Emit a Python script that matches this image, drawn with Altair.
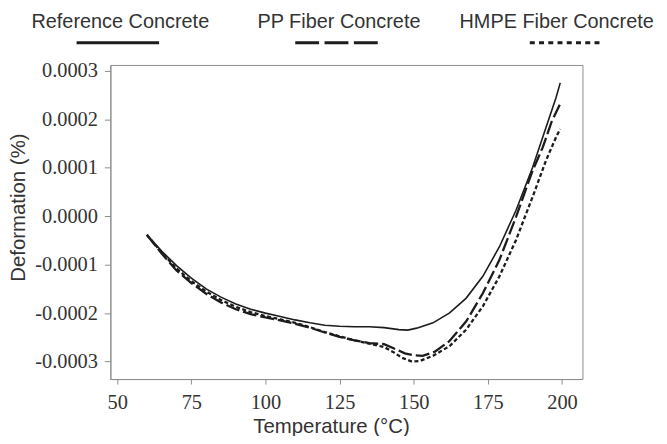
import altair as alt
import pandas as pd

# ---- data ----
ref_temp = [60, 65, 70, 75, 80, 85, 90, 95, 100, 105, 110, 115, 120, 125, 130, 135, 140, 145, 148, 151, 156.5, 162.1, 167.7, 173.3, 178.9, 184.5, 190.1, 194.6, 198, 199.4]
ref_def = [-0.0000385, -0.000072, -0.000102, -0.000128, -0.000150, -0.000167, -0.000181, -0.000192, -0.000200, -0.000207, -0.000214, -0.000220, -0.000225, -0.000227, -0.000228, -0.000228, -0.000230, -0.000234, -0.000235, -0.000231, -0.000220, -0.0001995, -0.000169, -0.000124, -0.000063, 0.0000123, 0.000101, 0.000183, 0.000245, 0.000275]

pp_temp = [60, 65, 70, 75, 80, 85, 90, 95, 100, 105, 110, 115, 120, 125, 130, 135, 140, 143, 147, 150, 153, 157, 162, 167.7, 173.3, 178.9, 184.5, 190.1, 193.5, 196.5, 199.4]
pp_def = [-0.0000385, -0.000077, -0.000112, -0.000138, -0.000160, -0.000178, -0.000192, -0.000202, -0.000209, -0.000215, -0.000222, -0.000230, -0.000240, -0.000249, -0.000256, -0.000262, -0.000264, -0.000272, -0.000283, -0.000287, -0.000288, -0.000280, -0.000258, -0.000217, -0.000159, -0.000090, -0.0000014, 0.0000943, 0.000142, 0.000195, 0.000232]

hmpe_temp = [60, 65, 70, 75, 80, 85, 90, 95, 100, 105, 110, 115, 120, 125, 130, 135, 140, 143, 146, 149.4, 152, 156.5, 162.1, 167.7, 173.3, 178.9, 184.5, 190.1, 194.6, 198, 199.4]
hmpe_def = [-0.0000385, -0.000075, -0.000108, -0.000134, -0.000155, -0.000173, -0.000187, -0.000198, -0.000206, -0.000213, -0.000220, -0.000229, -0.000239, -0.000248, -0.000256, -0.000263, -0.000270, -0.000280, -0.000292, -0.000300, -0.000299, -0.000288, -0.000268, -0.000234, -0.000186, -0.000124, -0.000049, 0.000040, 0.000115, 0.000163, 0.000180]

series_names = ["Reference Concrete", "PP Fiber Concrete", "HMPE Fiber Concrete"]
x_ticks = [50, 75, 100, 125, 150, 175, 200]
y_ticks = [-0.0003, -0.0002, -0.0001, 0.0, 0.0001, 0.0002, 0.0003]

x_title = "Temperature (°C)"
y_title = "Deformation (%)"

ref_df = pd.DataFrame({"t": ref_temp, "d": ref_def})
pp_df = pd.DataFrame({"t": pp_temp, "d": pp_def})
hmpe_df = pd.DataFrame({"t": hmpe_temp, "d": hmpe_def})

INK = "#1c1c1c"
FRAME = "#8c8c8c"
SANS = "Liberation Sans"
SERIF = "Liberation Serif"

x_enc = alt.X(
    "t:Q",
    scale=alt.Scale(domain=[47.7, 206.9], nice=False, zero=False),
    axis=alt.Axis(
        values=x_ticks, title=x_title, grid=False,
        labelFont=SERIF, labelFontSize=20.5, labelColor="#333333", labelPadding=9,
        tickSize=5, tickColor=FRAME, domainColor=FRAME,
        titleFont=SANS, titleFontSize=20.5, titleFontWeight="normal", titleColor="#333333",
        titleX=222, titleY=54, titleAlign="center", titleBaseline="alphabetic",
    ),
)
y_enc = alt.Y(
    "d:Q",
    scale=alt.Scale(domain=[-0.000336, 0.000312], nice=False, zero=False),
    axis=alt.Axis(
        values=y_ticks, title=y_title, grid=False,
        labelExpr="(datum.value < 0 ? '-' : '') + format(abs(datum.value), '.4f')",
        labelFont=SERIF, labelFontSize=20.5, labelColor="#333333", labelPadding=7,
        tickSize=6, tickColor=FRAME, domainColor=FRAME,
        titleFont=SANS, titleFontSize=20.5, titleFontWeight="normal", titleColor="#333333",
        titleX=-86, titleY=143, titleAlign="center", titleBaseline="alphabetic", titleAngle=270,
    ),
)

ref_line = alt.Chart(ref_df).mark_line(color=INK, strokeWidth=1.6).encode(x=x_enc, y=y_enc)
pp_line = alt.Chart(pp_df).mark_line(color=INK, strokeWidth=2.3, strokeDash=[14, 4]).encode(x="t:Q", y="d:Q")
hmpe_line = alt.Chart(hmpe_df).mark_line(color=INK, strokeWidth=2.3, strokeDash=[4, 2.5]).encode(x="t:Q", y="d:Q")

one = alt.Data(values=[{}])


def legend_text(label, cx):
    return alt.Chart(one).mark_text(
        font=SANS, fontSize=20, color="#333333", align="center", baseline="alphabetic"
    ).encode(x=alt.value(cx), y=alt.value(-37.3), text=alt.value(label))


def legend_rule(x1, x2, dash, width=3):
    kw = {"color": INK, "strokeWidth": width}
    if dash:
        kw["strokeDash"] = dash
    return alt.Chart(one).mark_rule(**kw).encode(
        x=alt.value(x1), x2=alt.value(x2), y=alt.value(-22.3)
    )


legend = [
    legend_text(series_names[0], 10),
    legend_rule(-34, 49, None),
    legend_text(series_names[1], 230),
    legend_rule(186, 269, [24, 5.5]),
    legend_text(series_names[2], 449),
    legend_rule(422, 496, [5, 4.3]),
]

chart = alt.layer(ref_line, pp_line, hmpe_line, *legend).properties(
    width=475,
    height=316,
    autosize=alt.AutoSizeParams(type="none"),
    padding={"left": 103, "top": 56, "right": 77, "bottom": 56},
    background="white",
).configure_view(stroke=FRAME, strokeWidth=1)

chart.save("out.html", embed_options={"renderer": "svg", "actions": False})
